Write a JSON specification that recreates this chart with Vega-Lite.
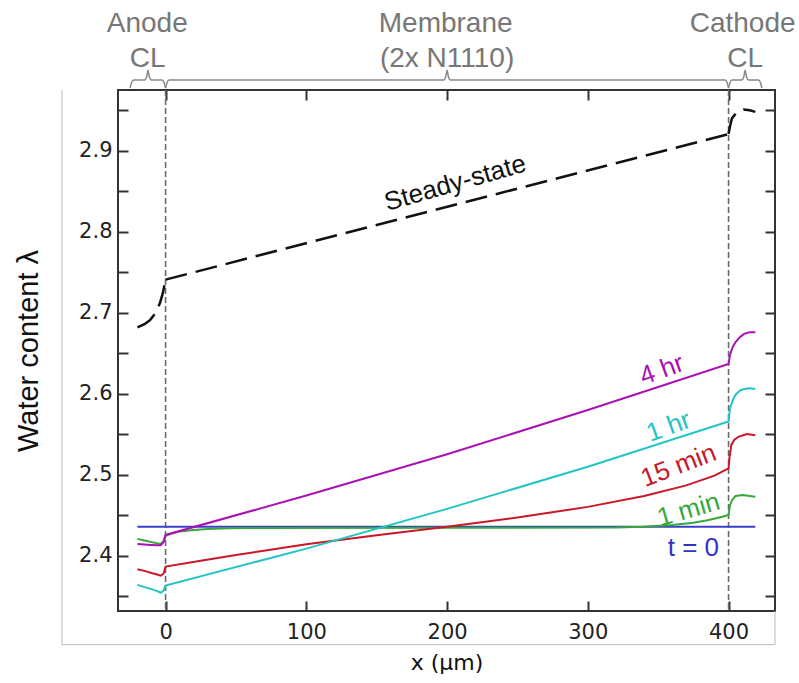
{
  "$schema": "https://vega.github.io/schema/vega-lite/v6.json",
  "width": 657,
  "height": 521,
  "autosize": "none",
  "padding": {"left": 118, "top": 90, "right": 24, "bottom": 72},
  "background": "white",
  "config": {
    "view": {"stroke": "#333", "strokeWidth": 2},
    "axis": {"grid": false, "domain": false, "tickColor": "#333", "tickWidth": 2, "tickSize": -10,
             "labelFont": "DejaVu Sans", "labelFontSize": 21, "labelColor": "#222",
             "titleFontWeight": "normal", "titleColor": "#111"}
  },
  "datasets": {
    "curves": [
      {"series": "t = 0", "x": -20, "y": 2.436}, {"series": "t = 0", "x": 419, "y": 2.436},
      {"series": "1 min", "x": -20, "y": 2.421}, {"series": "1 min", "x": -15, "y": 2.419}, {"series": "1 min", "x": -10, "y": 2.417}, {"series": "1 min", "x": -6, "y": 2.4155}, {"series": "1 min", "x": -3.5, "y": 2.4148}, {"series": "1 min", "x": -1.5, "y": 2.418}, {"series": "1 min", "x": 0, "y": 2.4247}, {"series": "1 min", "x": 5, "y": 2.428}, {"series": "1 min", "x": 10, "y": 2.43}, {"series": "1 min", "x": 20, "y": 2.432}, {"series": "1 min", "x": 30, "y": 2.4333}, {"series": "1 min", "x": 45, "y": 2.434}, {"series": "1 min", "x": 60, "y": 2.4345}, {"series": "1 min", "x": 200, "y": 2.4348}, {"series": "1 min", "x": 320, "y": 2.435}, {"series": "1 min", "x": 340, "y": 2.436}, {"series": "1 min", "x": 360, "y": 2.438}, {"series": "1 min", "x": 375, "y": 2.441}, {"series": "1 min", "x": 385, "y": 2.444}, {"series": "1 min", "x": 395, "y": 2.448}, {"series": "1 min", "x": 400, "y": 2.4506}, {"series": "1 min", "x": 401, "y": 2.462}, {"series": "1 min", "x": 402.5, "y": 2.469}, {"series": "1 min", "x": 405, "y": 2.474}, {"series": "1 min", "x": 410, "y": 2.4752}, {"series": "1 min", "x": 415, "y": 2.474}, {"series": "1 min", "x": 419, "y": 2.473},
      {"series": "15 min", "x": -20, "y": 2.3836}, {"series": "15 min", "x": -15, "y": 2.3815}, {"series": "15 min", "x": -10, "y": 2.379}, {"series": "15 min", "x": -6, "y": 2.377}, {"series": "15 min", "x": -3.5, "y": 2.3755}, {"series": "15 min", "x": -1.5, "y": 2.378}, {"series": "15 min", "x": 0, "y": 2.3868}, {"series": "15 min", "x": 25, "y": 2.394}, {"series": "15 min", "x": 50, "y": 2.401}, {"series": "15 min", "x": 100, "y": 2.4145}, {"series": "15 min", "x": 150, "y": 2.4255}, {"series": "15 min", "x": 200, "y": 2.436}, {"series": "15 min", "x": 250, "y": 2.4475}, {"series": "15 min", "x": 300, "y": 2.4605}, {"series": "15 min", "x": 340, "y": 2.474}, {"series": "15 min", "x": 370, "y": 2.487}, {"series": "15 min", "x": 390, "y": 2.499}, {"series": "15 min", "x": 400, "y": 2.508}, {"series": "15 min", "x": 400.7, "y": 2.522}, {"series": "15 min", "x": 402, "y": 2.537}, {"series": "15 min", "x": 404, "y": 2.543}, {"series": "15 min", "x": 407, "y": 2.547}, {"series": "15 min", "x": 413, "y": 2.5505}, {"series": "15 min", "x": 419, "y": 2.549},
      {"series": "1 hr", "x": -20, "y": 2.3642}, {"series": "1 hr", "x": -15, "y": 2.3615}, {"series": "1 hr", "x": -10, "y": 2.359}, {"series": "1 hr", "x": -6, "y": 2.3565}, {"series": "1 hr", "x": -3.5, "y": 2.3545}, {"series": "1 hr", "x": -1.5, "y": 2.357}, {"series": "1 hr", "x": 0, "y": 2.3634}, {"series": "1 hr", "x": 100, "y": 2.409}, {"series": "1 hr", "x": 200, "y": 2.458}, {"series": "1 hr", "x": 300, "y": 2.51}, {"series": "1 hr", "x": 400, "y": 2.566}, {"series": "1 hr", "x": 401, "y": 2.582}, {"series": "1 hr", "x": 403, "y": 2.592}, {"series": "1 hr", "x": 405, "y": 2.599}, {"series": "1 hr", "x": 408, "y": 2.604}, {"series": "1 hr", "x": 411, "y": 2.606}, {"series": "1 hr", "x": 415, "y": 2.607}, {"series": "1 hr", "x": 419, "y": 2.606},
      {"series": "4 hr", "x": -20, "y": 2.4148}, {"series": "4 hr", "x": -15, "y": 2.4141}, {"series": "4 hr", "x": -10, "y": 2.4135}, {"series": "4 hr", "x": -6, "y": 2.4131}, {"series": "4 hr", "x": -3.5, "y": 2.4132}, {"series": "4 hr", "x": -1.5, "y": 2.417}, {"series": "4 hr", "x": 0, "y": 2.4259}, {"series": "4 hr", "x": 100, "y": 2.4745}, {"series": "4 hr", "x": 200, "y": 2.5255}, {"series": "4 hr", "x": 300, "y": 2.58}, {"series": "4 hr", "x": 400, "y": 2.637}, {"series": "4 hr", "x": 401, "y": 2.648}, {"series": "4 hr", "x": 403, "y": 2.658}, {"series": "4 hr", "x": 405, "y": 2.664}, {"series": "4 hr", "x": 408, "y": 2.67}, {"series": "4 hr", "x": 411, "y": 2.674}, {"series": "4 hr", "x": 415, "y": 2.676}, {"series": "4 hr", "x": 419, "y": 2.676}
    ],
    "steady": [
      {"part": "anode", "x": -20, "y": 2.682}, {"part": "anode", "x": -15, "y": 2.686}, {"part": "anode", "x": -11, "y": 2.691}, {"part": "anode", "x": -7, "y": 2.7}, {"part": "anode", "x": -4, "y": 2.712}, {"part": "anode", "x": -2, "y": 2.724}, {"part": "anode", "x": 0, "y": 2.741},
      {"part": "membrane", "x": 0, "y": 2.741}, {"part": "membrane", "x": 400, "y": 2.9206},
      {"part": "cathode", "x": 400, "y": 2.9206}, {"part": "cathode", "x": 401, "y": 2.93}, {"part": "cathode", "x": 402.4, "y": 2.94}, {"part": "cathode", "x": 406, "y": 2.948}, {"part": "cathode", "x": 410.7, "y": 2.951}, {"part": "cathode", "x": 415, "y": 2.95}, {"part": "cathode", "x": 419, "y": 2.948}
    ],
    "braces": [
      {"brace": "anode", "x": -25.2, "y": 2.9773}, {"brace": "anode", "x": -24.2, "y": 2.984}, {"brace": "anode", "x": -22.7, "y": 2.9872}, {"brace": "anode", "x": -15, "y": 2.9872}, {"brace": "anode", "x": -13.5, "y": 2.991}, {"brace": "anode", "x": -12.5, "y": 2.9995}, {"brace": "anode", "x": -11.5, "y": 2.991}, {"brace": "anode", "x": -10, "y": 2.9872}, {"brace": "anode", "x": -2.5, "y": 2.9872}, {"brace": "anode", "x": -1, "y": 2.984}, {"brace": "anode", "x": 0, "y": 2.9773},
      {"brace": "membrane", "x": 0, "y": 2.9773}, {"brace": "membrane", "x": 1, "y": 2.984}, {"brace": "membrane", "x": 2.5, "y": 2.9872}, {"brace": "membrane", "x": 197.5, "y": 2.9872}, {"brace": "membrane", "x": 199, "y": 2.991}, {"brace": "membrane", "x": 200, "y": 2.9995}, {"brace": "membrane", "x": 201, "y": 2.991}, {"brace": "membrane", "x": 202.5, "y": 2.9872}, {"brace": "membrane", "x": 397.5, "y": 2.9872}, {"brace": "membrane", "x": 399, "y": 2.984}, {"brace": "membrane", "x": 400, "y": 2.9773},
      {"brace": "cathode", "x": 400, "y": 2.9773}, {"brace": "cathode", "x": 401, "y": 2.984}, {"brace": "cathode", "x": 402.5, "y": 2.9872}, {"brace": "cathode", "x": 409.3, "y": 2.9872}, {"brace": "cathode", "x": 410.8, "y": 2.991}, {"brace": "cathode", "x": 411.8, "y": 2.9995}, {"brace": "cathode", "x": 412.8, "y": 2.991}, {"brace": "cathode", "x": 414.3, "y": 2.9872}, {"brace": "cathode", "x": 421.2, "y": 2.9872}, {"brace": "cathode", "x": 422.7, "y": 2.984}, {"brace": "cathode", "x": 423.7, "y": 2.9773}
    ],
    "regions": [
      {"label": "Anode", "x": -13, "y": 3.0467}, {"label": "CL", "x": -12.8, "y": 3.0036},
      {"label": "Membrane", "x": 199, "y": 3.0467}, {"label": "(2x N1110)", "x": 200, "y": 3.0036},
      {"label": "Cathode", "x": 410, "y": 3.0467}, {"label": "CL", "x": 411.8, "y": 3.0036}
    ],
    "labels": [
      {"label": "Steady-state", "x": 205.8, "y": 2.86},
      {"label": "4 hr", "x": 352.6, "y": 2.6296},
      {"label": "1 hr", "x": 357.4, "y": 2.5594},
      {"label": "15 min", "x": 364.5, "y": 2.5112},
      {"label": "1 min", "x": 371.6, "y": 2.4567},
      {"label": "t = 0", "x": 375, "y": 2.4095}
    ],
    "frame": [
      {"x": -73.6, "y": 2.975}, {"x": -73.6, "y": 2.2905}, {"x": 433, "y": 2.2905}, {"x": 433, "y": 2.332}
    ],
    "walls": [{"x": 0}, {"x": 400}]
  },
  "layer": [
    {
      "data": {"name": "walls"},
      "mark": {"type": "rule", "color": "#6a6a6a", "strokeWidth": 1.6, "strokeDash": [6, 3]},
      "encoding": {
        "x": {"field": "x", "type": "quantitative", "scale": {"domain": [-33.8, 433], "nice": false, "zero": false},
              "axis": {"orient": "bottom", "values": [0, 100, 200, 300, 400], "format": "d", "labelPadding": 20,
                       "title": "x (µm)", "titleFont": "DejaVu Sans", "titleFontSize": 22, "titlePadding": 10}}
      }
    },
    {
      "data": {"name": "frame"},
      "mark": {"type": "line", "color": "#bbb", "strokeWidth": 1},
      "encoding": {
        "x": {"field": "x", "type": "quantitative", "axis": {"orient": "top", "values": [0, 100, 200, 300, 400], "labels": false, "title": null}},
        "y": {"field": "y", "type": "quantitative", "scale": {"domain": [2.332, 2.975], "nice": false, "zero": false},
              "axis": {"orient": "left", "values": [2.35, 2.4, 2.45, 2.5, 2.55, 2.6, 2.65, 2.7, 2.75, 2.8, 2.85, 2.9, 2.95],
                       "labelExpr": "abs(datum.value*10 - round(datum.value*10)) < 0.01 ? format(datum.value, '.1f') : ''",
                       "labelPadding": 16, "title": "Water content λ", "titleFont": "Liberation Sans", "titleFontSize": 29, "titlePadding": 35}},
        "order": {"value": 0}
      }
    },
    {
      "data": {"name": "braces"},
      "mark": {"type": "line", "color": "#888", "strokeWidth": 1.5, "interpolate": "monotone"},
      "encoding": {
        "x": {"field": "x", "type": "quantitative", "axis": null},
        "y": {"field": "y", "type": "quantitative", "axis": {"orient": "right", "values": [2.35, 2.4, 2.45, 2.5, 2.55, 2.6, 2.65, 2.7, 2.75, 2.8, 2.85, 2.9, 2.95], "labels": false, "title": null}},
        "detail": {"field": "brace"}
      }
    },
    {
      "data": {"name": "regions"},
      "mark": {"type": "text", "font": "Liberation Sans", "fontSize": 28, "color": "#777", "baseline": "alphabetic", "align": "center"},
      "encoding": {
        "x": {"field": "x", "type": "quantitative", "axis": null},
        "y": {"field": "y", "type": "quantitative", "axis": null},
        "text": {"field": "label"}
      }
    },
    {
      "data": {"name": "curves"},
      "mark": {"type": "line", "strokeWidth": 2},
      "encoding": {
        "x": {"field": "x", "type": "quantitative", "axis": null},
        "y": {"field": "y", "type": "quantitative", "axis": null},
        "color": {"field": "series", "type": "nominal", "legend": null,
                  "scale": {"domain": ["t = 0", "1 min", "15 min", "1 hr", "4 hr"], "range": ["#3c3cd0", "#35a83a", "#c8182a", "#22c4c4", "#aa10b4"]}}
      }
    },
    {
      "data": {"name": "steady"},
      "mark": {"type": "line", "strokeWidth": 2.5, "color": "#111", "strokeDash": [22, 9]},
      "encoding": {
        "x": {"field": "x", "type": "quantitative", "axis": null},
        "y": {"field": "y", "type": "quantitative", "axis": null},
        "detail": {"field": "part"}
      }
    },
    {
      "data": {"name": "labels"},
      "transform": [{"filter": "datum.label == 'Steady-state'"}],
      "mark": {"type": "text", "font": "Liberation Sans", "fontSize": 26, "color": "#111", "angle": 344, "baseline": "middle"},
      "encoding": {"x": {"field": "x", "type": "quantitative", "axis": null}, "y": {"field": "y", "type": "quantitative", "axis": null}, "text": {"field": "label"}}
    },
    {
      "data": {"name": "labels"},
      "transform": [{"filter": "datum.label == '4 hr'"}],
      "mark": {"type": "text", "font": "Liberation Sans", "fontSize": 26, "color": "#aa10b4", "angle": 340, "baseline": "middle"},
      "encoding": {"x": {"field": "x", "type": "quantitative", "axis": null}, "y": {"field": "y", "type": "quantitative", "axis": null}, "text": {"field": "label"}}
    },
    {
      "data": {"name": "labels"},
      "transform": [{"filter": "datum.label == '1 hr'"}],
      "mark": {"type": "text", "font": "Liberation Sans", "fontSize": 26, "color": "#22c4c4", "angle": 340, "baseline": "middle"},
      "encoding": {"x": {"field": "x", "type": "quantitative", "axis": null}, "y": {"field": "y", "type": "quantitative", "axis": null}, "text": {"field": "label"}}
    },
    {
      "data": {"name": "labels"},
      "transform": [{"filter": "datum.label == '15 min'"}],
      "mark": {"type": "text", "font": "Liberation Sans", "fontSize": 26, "color": "#c8182a", "angle": 339, "baseline": "middle"},
      "encoding": {"x": {"field": "x", "type": "quantitative", "axis": null}, "y": {"field": "y", "type": "quantitative", "axis": null}, "text": {"field": "label"}}
    },
    {
      "data": {"name": "labels"},
      "transform": [{"filter": "datum.label == '1 min'"}],
      "mark": {"type": "text", "font": "Liberation Sans", "fontSize": 26, "color": "#35a83a", "angle": 344, "baseline": "middle"},
      "encoding": {"x": {"field": "x", "type": "quantitative", "axis": null}, "y": {"field": "y", "type": "quantitative", "axis": null}, "text": {"field": "label"}}
    },
    {
      "data": {"name": "labels"},
      "transform": [{"filter": "datum.label == 't = 0'"}],
      "mark": {"type": "text", "font": "Liberation Sans", "fontSize": 26, "color": "#3434c0", "baseline": "middle"},
      "encoding": {"x": {"field": "x", "type": "quantitative", "axis": null}, "y": {"field": "y", "type": "quantitative", "axis": null}, "text": {"field": "label"}}
    }
  ],
  "resolve": {"axis": {"x": "independent", "y": "independent"}}
}
